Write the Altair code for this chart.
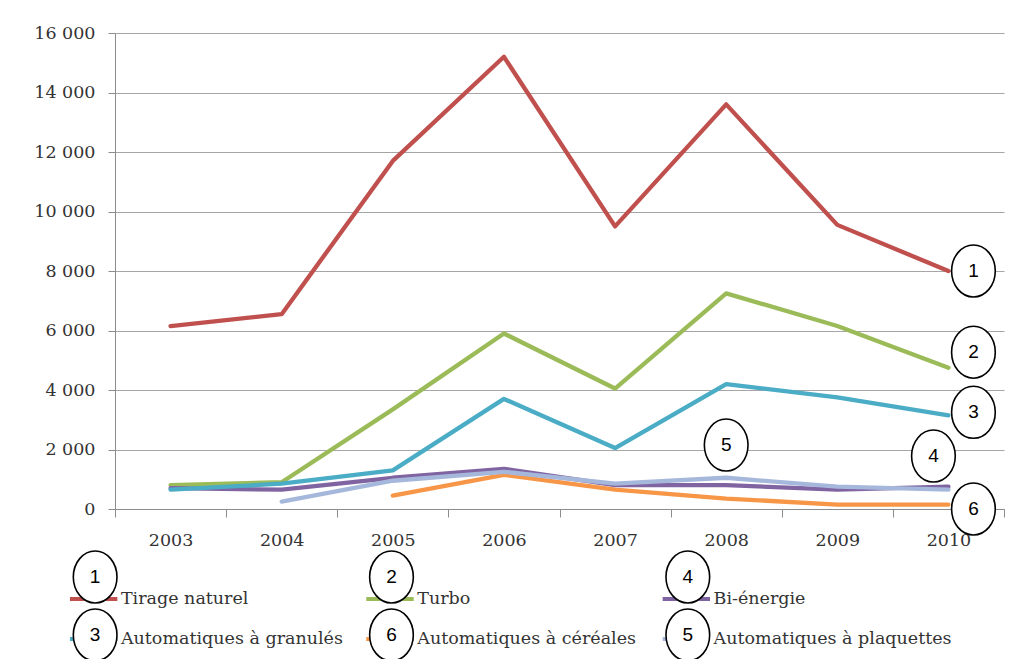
import altair as alt
import pandas as pd

years = ["2003", "2004", "2005", "2006", "2007", "2008", "2009", "2010"]
series_names = [
    "Tirage naturel",
    "Turbo",
    "Bi-énergie",
    "Automatiques à granulés",
    "Automatiques à céréales",
    "Automatiques à plaquettes",
]
tirage = [6150, 6550, 11700, 15200, 9500, 13600, 9550, 8000]
turbo = [800, 900, 3350, 5900, 4050, 7250, 6150, 4750]
bienergie = [700, 650, 1050, 1350, 800, 800, 650, 750]
granules = [650, 850, 1300, 3700, 2050, 4200, 3750, 3150]
cereales = [None, None, 450, 1150, 650, 350, 150, 150]
plaquettes = [None, 250, 950, 1250, 850, 1050, 750, 650]
series_numbers = ["1", "2", "4", "3", "6", "5"]
colors = ["#C0504D", "#9BBB59", "#8064A2", "#4BACC6", "#F79646", "#A5B8DC"]

# annotation anchors (number, year, value)
ann_right_nums = ["1", "2", "3", "6"]
ann_right_vals = [8000, 5270, 3250, 0]
ann_4_val = 1780
ann_5_val = 2150

values = [tirage, turbo, bienergie, granules, cereales, plaquettes]
rows = []
for k, (name, vals) in enumerate(zip(series_names, values)):
    for yr, v in zip(years, vals):
        if v is not None:
            rows.append({"annee": yr, "valeur": v, "serie": name, "ordre": k})
df = pd.DataFrame(rows)

SERIF = "DejaVu Serif"
SANS = "Liberation Sans"
ELLIPSE = "M -0.84 0 A 0.84 1 0 1 1 0.84 0 A 0.84 1 0 1 1 -0.84 0 Z"

W = 889
HALF_STEP = W / len(years) / 2

color_scale = alt.Scale(domain=series_names, range=colors)

x_enc = alt.X(
    "annee:O",
    scale=alt.Scale(type="band", paddingInner=0, paddingOuter=0, domain=years),
    axis=alt.Axis(
        title=None, labelAngle=0, tickBand="extent", grid=False, tickSize=8,
        labelPadding=14, labelFont=SERIF, labelFontSize=17.5, labelColor="#333333",
        domainColor="#8C8C8C", tickColor="#8C8C8C",
    ),
)
y_enc = alt.Y(
    "valeur:Q",
    scale=alt.Scale(domain=[0, 16000], nice=False),
    axis=alt.Axis(
        title=None, values=list(range(0, 16001, 2000)), tickSize=7, labelPadding=13,
        labelFont=SERIF, labelFontSize=17.5, labelColor="#333333",
        labelExpr="replace(format(datum.value, ','), ',', ' ')",
        gridColor="#A6A6A6", domainColor="#8C8C8C", tickColor="#8C8C8C",
    ),
)

lines = alt.Chart(df).mark_line(strokeWidth=4.3, strokeJoin="round", strokeCap="round").encode(
    x=x_enc, y=y_enc,
    color=alt.Color("serie:N", scale=color_scale, legend=None),
    detail="ordre:O",
)

ann_right = pd.DataFrame({"num": ann_right_nums, "annee": "2010", "valeur": ann_right_vals})
ann_4 = pd.DataFrame({"num": ["4"], "annee": ["2010"], "valeur": [ann_4_val]})
ann_5 = pd.DataFrame({"num": ["5"], "annee": ["2008"], "valeur": [ann_5_val]})


def bubble(data, off):
    base = alt.Chart(data).encode(
        x=alt.X("annee:O"), y=alt.Y("valeur:Q"), xOffset=alt.value(HALF_STEP + off)
    )
    c = base.mark_point(shape=ELLIPSE, size=2704, filled=True, fill="white",
                        stroke="black", strokeWidth=1.6, opacity=1)
    t = base.mark_text(font=SANS, fontSize=19, color="black", baseline="middle",
                       align="center").encode(text="num:N")
    return c + t


no_frame = alt.ViewBackground(strokeOpacity=0, strokeWidth=0)

top = alt.layer(
    lines,
    bubble(ann_right, 25),
    bubble(ann_4, -15),
    bubble(ann_5, 0),
).properties(width=W, height=476, view=no_frame)

# legend as its own small chart
leg = pd.DataFrame({
    "serie": series_names,
    "num": series_numbers,
    "col": [i % 3 for i in range(6)],
    "row": [i // 3 for i in range(6)],
})
lx = alt.Scale(domain=[0.152, 3.152], nice=False, zero=False)
ly = alt.Scale(domain=[-1, 1], reverse=True, nice=False, zero=False)
lbase = alt.Chart(leg).transform_calculate(
    lx1="datum.col", lx2="datum.col + 0.16", tx="datum.col + 0.172", cx="datum.col + 0.085"
)
lrule = lbase.mark_rule(strokeWidth=4).encode(
    x=alt.X("lx1:Q", scale=lx, axis=None), x2="lx2:Q",
    y=alt.Y("row:Q", scale=ly, axis=None),
    color=alt.Color("serie:N", scale=color_scale, legend=None),
)
ltext = lbase.mark_text(align="left", baseline="middle", font=SERIF, fontSize=17.5,
                        color="#333333").encode(
    x=alt.X("tx:Q", scale=lx, axis=None), y=alt.Y("row:Q", scale=ly, axis=None),
    text="serie:N",
)


def leg_bubbles(row, off):
    b = lbase.transform_filter(f"datum.row == {row}").encode(
        x=alt.X("cx:Q", scale=lx, axis=None), y=alt.Y("row:Q", scale=ly, axis=None),
        yOffset=alt.value(off),
    )
    c = b.mark_point(shape=ELLIPSE, size=2704, filled=True, fill="white",
                     stroke="black", strokeWidth=1.6, opacity=1)
    t = b.mark_text(font=SANS, fontSize=19, color="black", baseline="middle",
                    align="center").encode(text="num:N")
    return c + t


legend_chart = alt.layer(lrule, ltext, leg_bubbles(0, -22), leg_bubbles(1, -4)).properties(
    width=W, height=80, view=no_frame
)

chart = alt.vconcat(top, legend_chart, spacing=50, bounds="flush").properties(
    padding={"left": 33, "top": 24, "right": 5, "bottom": 0}
).configure_view(strokeOpacity=0, strokeWidth=0).configure(background="white")

chart.save("out.html", embed_options={"renderer": "svg", "actions": False})
